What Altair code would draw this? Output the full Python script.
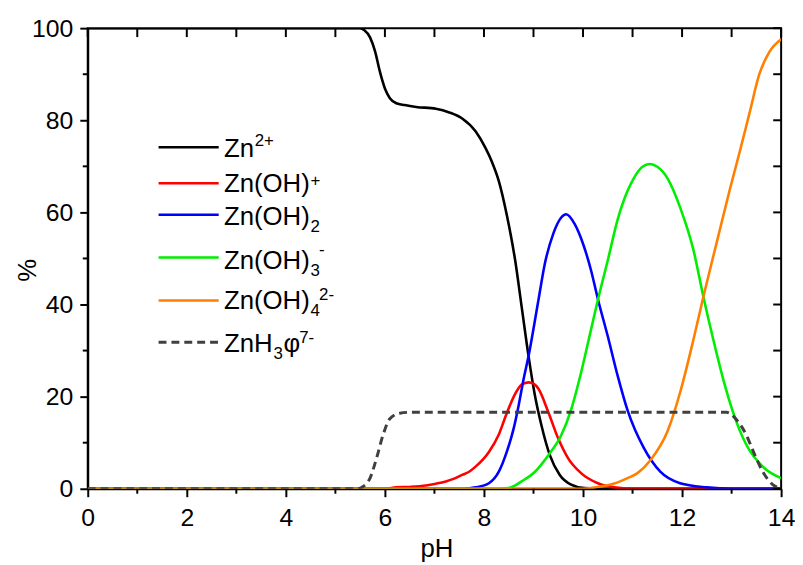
import altair as alt
import pandas as pd

# ---------------- data ----------------
PH_MAJOR = [0, 2, 4, 6, 8, 10, 12, 14]
PH_MINOR = [1, 3, 5, 7, 9, 11, 13]
PH_ALL = list(range(0, 15))
PCT_MAJOR = [0, 20, 40, 60, 80, 100]
PCT_MINOR = [10, 30, 50, 70, 90]
PCT_ALL = list(range(0, 101, 10))

black_ph = [0, 5.5, 5.58, 5.7, 5.8, 5.9, 6.0, 6.1, 6.23, 6.4, 6.63, 7.03, 7.3, 7.56, 7.83,
            8.03, 8.16, 8.3, 8.46, 8.63, 8.76, 8.9, 9.03, 9.16, 9.33, 9.53, 9.76, 10.03, 10.5, 14]
black_v = [100, 100, 99.6, 98.0, 95.0, 90.5, 86.9, 84.8, 83.7, 83.3, 82.9, 82.5, 81.7, 80.4, 77.6,
           74.0, 71.0, 66.8, 59.5, 49.6, 39.6, 28.8, 20.2, 13.8, 7.3, 3.0, 0.9, 0.15, 0, 0]

red_ph = [0, 6.0, 6.23, 6.5, 6.83, 7.03, 7.23, 7.4, 7.56, 7.7, 7.83, 8.1, 8.3, 8.46, 8.63,
          8.76, 8.9, 9.0, 9.1, 9.3, 9.5, 9.7, 9.96, 10.3, 10.63, 11.0, 14]
red_v = [0, 0, 0.3, 0.4, 0.7, 1.1, 1.6, 2.2, 3.0, 3.7, 4.8, 8.0, 11.8, 16.4, 20.6,
         22.6, 23.1, 22.8, 21.7, 16.6, 10.9, 6.6, 3.4, 1.2, 0.3, 0, 0]

blue_ph = [0, 7.6, 7.83, 8.1, 8.3, 8.46, 8.6, 8.7, 8.8, 8.9, 9.1, 9.23, 9.4, 9.56, 9.66,
           9.83, 10.0, 10.16, 10.3, 10.5, 10.7, 10.9, 11.23, 11.56, 11.96, 12.5, 13, 14]
blue_v = [0, 0, 0.3, 1.2, 3.7, 8.0, 13.1, 18.1, 23.8, 28.8, 41.0, 48.9, 55.4, 58.9, 59.6,
          57.5, 53.2, 47.5, 41.2, 33.1, 24.5, 17.0, 8.8, 3.7, 1.2, 0.3, 0, 0]

green_ph = [0, 8.3, 8.5, 8.76, 9.03, 9.3, 9.56, 9.76, 9.96, 10.16, 10.3, 10.5, 10.7, 10.9,
            11.03, 11.2, 11.35, 11.5, 11.7, 11.96, 12.23, 12.43, 12.63, 12.83, 13.03, 13.3, 13.63, 14.0]
green_v = [0, 0, 0.15, 1.6, 3.7, 7.3, 11.6, 17.2, 25.2, 34.5, 41.0, 49.6, 58.5, 64.7,
           67.5, 69.9, 70.5, 69.9, 67.5, 61.1, 51.8, 41.7, 32.4, 23.8, 16.6, 9.5, 4.8, 2.3]

orange_ph = [0, 10.0, 10.36, 10.56, 10.9, 11.1, 11.36, 11.7, 11.96, 12.23, 12.43, 12.7,
             12.96, 13.16, 13.36, 13.56, 13.76, 14.0]
orange_v = [0, 0, 0.5, 0.9, 2.3, 3.4, 6.2, 12.3, 20.9, 32.4, 41.7, 53.5,
            64.8, 73.0, 81.5, 90.0, 94.8, 97.6]

dash_ph = [0, 5.45, 5.56, 5.7, 5.83, 5.96, 6.1, 6.3, 6.5, 12.9, 13.1, 13.3, 13.45, 13.63, 13.83, 14.0]
dash_v = [0, 0, 0.5, 2.3, 6.6, 11.6, 15.2, 16.4, 16.6, 16.6, 15.0, 11.6, 7.8, 3.7, 0.9, 0.1]

# name, pH, values, colour, dash
SERIES = [
    ("Zn2+", black_ph, black_v, "#000000", None),
    ("Zn(OH)+", red_ph, red_v, "#ff0000", None),
    ("Zn(OH)2", blue_ph, blue_v, "#0000ff", None),
    ("Zn(OH)3-", green_ph, green_v, "#00ee00", None),
    ("Zn(OH)4 2-", orange_ph, orange_v, "#ff8000", None),
    ("ZnH3phi7-", dash_ph, dash_v, "#404040", [8, 5]),
]

# legend text pieces: text, page x, page baseline y, font size
LEGEND_PIECES = [
    ("Zn", 226, 156, 26), ("2+", 257, 145, 17),
    ("Zn(OH)", 226, 191, 26), ("+", 313.5, 185, 17),
    ("Zn(OH)", 226, 224.3, 26), ("2", 313.5, 231.7, 17),
    ("Zn(OH)", 226, 269.3, 26), ("3", 313.5, 275.5, 17), ("-", 322, 255, 17),
    ("Zn(OH)", 226, 309.3, 26), ("4", 313.5, 316.7, 17), ("2-", 322, 300, 17),
    ("ZnH", 226, 352.7, 26), ("3", 276, 359.5, 17), ("\u03c6", 286, 352.7, 26), ("7-", 302, 343.3, 17),
]
LEGEND_LINE_Y = [146, 182.3, 214, 257.3, 300.7, 342.7]
LEGEND_LINE_X = (160, 220.7)

# ---------------- layout ----------------
W, H = 700, 465
OX, OY = 88.5, 25.7   # page position of plot origin
FONT = "Liberation Sans"

x_scale = alt.Scale(domain=[0, 14], nice=False, zero=False)
y_scale = alt.Scale(domain=[0, 100], nice=False)

x_axis = alt.Axis(values=PH_MAJOR, title="pH", format="d", grid=False,
                  labelFont=FONT, labelFontSize=25, labelColor="black", labelPadding=9,
                  labelFlush=False, labelOverlap=False,
                  titleFont=FONT, titleFontSize=26, titleColor="black", titleFontWeight="normal",
                  titleBaseline="alphabetic", titleAlign="center", titleX=352, titleY=68,
                  tickSize=8, tickWidth=2, tickColor="black",
                  domainColor="black", domainWidth=2)
y_axis = alt.Axis(values=PCT_MAJOR, title="%", format="d", grid=False,
                  labelFont=FONT, labelFontSize=25, labelColor="black", labelPadding=7,
                  labelFlush=False, labelOverlap=False,
                  titleFont=FONT, titleFontSize=26, titleColor="black", titleFontWeight="normal",
                  titleAngle=270, titleBaseline="alphabetic", titleAlign="center",
                  titleX=-53, titleY=244,
                  tickSize=8, tickWidth=2, tickColor="black",
                  domainColor="black", domainWidth=2)

X = dict(scale=x_scale, axis=x_axis)
Y = dict(scale=y_scale, axis=y_axis)

layers = []
for name, ph, vals, color, dash in SERIES:
    df = pd.DataFrame({"pH": ph, "pct": vals})
    mk = dict(color=color, strokeWidth=2.6, interpolate="monotone", clip=True)
    if dash:
        mk["strokeDash"] = dash
        mk["strokeWidth"] = 3
    layers.append(
        alt.Chart(df).mark_line(**mk).encode(
            x=alt.X("pH:Q", **X),
            y=alt.Y("pct:Q", **Y),
        )
    )

# extra ticks: bottom/left minor (outward), top/right (inward)
tick_style = dict(color="black", strokeWidth=2)
layers.append(alt.Chart(pd.DataFrame({"pH": PH_MINOR})).mark_rule(**tick_style).encode(
    x=alt.X("pH:Q", **X), y=alt.value(H), y2=alt.value(H + 5)))
layers.append(alt.Chart(pd.DataFrame({"pct": PCT_MINOR})).mark_rule(**tick_style).encode(
    y=alt.Y("pct:Q", **Y), x=alt.value(-5), x2=alt.value(0)))
layers.append(alt.Chart(pd.DataFrame({"pH": PH_ALL})).mark_rule(**tick_style).encode(
    x=alt.X("pH:Q", **X), y=alt.value(0), y2=alt.value(9)))
layers.append(alt.Chart(pd.DataFrame({"pct": PCT_ALL})).mark_rule(**tick_style).encode(
    y=alt.Y("pct:Q", **Y), x=alt.value(W - 8), x2=alt.value(W)))

# legend sample lines
for (name, ph, vals, color, dash), ly in zip(SERIES, LEGEND_LINE_Y):
    mk = dict(color=color, strokeWidth=2.6)
    if dash:
        mk["strokeDash"] = dash
        mk["strokeWidth"] = 3
    layers.append(alt.Chart(pd.DataFrame({"k": [name]})).mark_rule(**mk).encode(
        x=alt.value(LEGEND_LINE_X[0] - OX), x2=alt.value(LEGEND_LINE_X[1] - OX),
        y=alt.value(ly - OY)))

leg_df = pd.DataFrame({
    "t": [p[0] for p in LEGEND_PIECES],
    "lx": [p[1] - OX for p in LEGEND_PIECES],
    "ly": [p[2] - OY for p in LEGEND_PIECES],
    "fs": [p[3] for p in LEGEND_PIECES],
})
layers.append(alt.Chart(leg_df).mark_text(align="left", baseline="alphabetic", font=FONT,
                                          color="black").encode(
    x=alt.X("lx:Q", scale=None), y=alt.Y("ly:Q", scale=None),
    text="t:N", size=alt.Size("fs:Q", scale=None)))

chart = alt.layer(*layers).properties(
    width=W, height=H,
    autosize=alt.AutoSizeParams(type="none"),
    padding={"left": OX - 8, "top": OY - 8, "right": 14, "bottom": 73},
    background="white",
).configure_view(stroke="black", strokeWidth=2)

chart.save("out.html", embed_options={"renderer": "svg", "actions": False})
